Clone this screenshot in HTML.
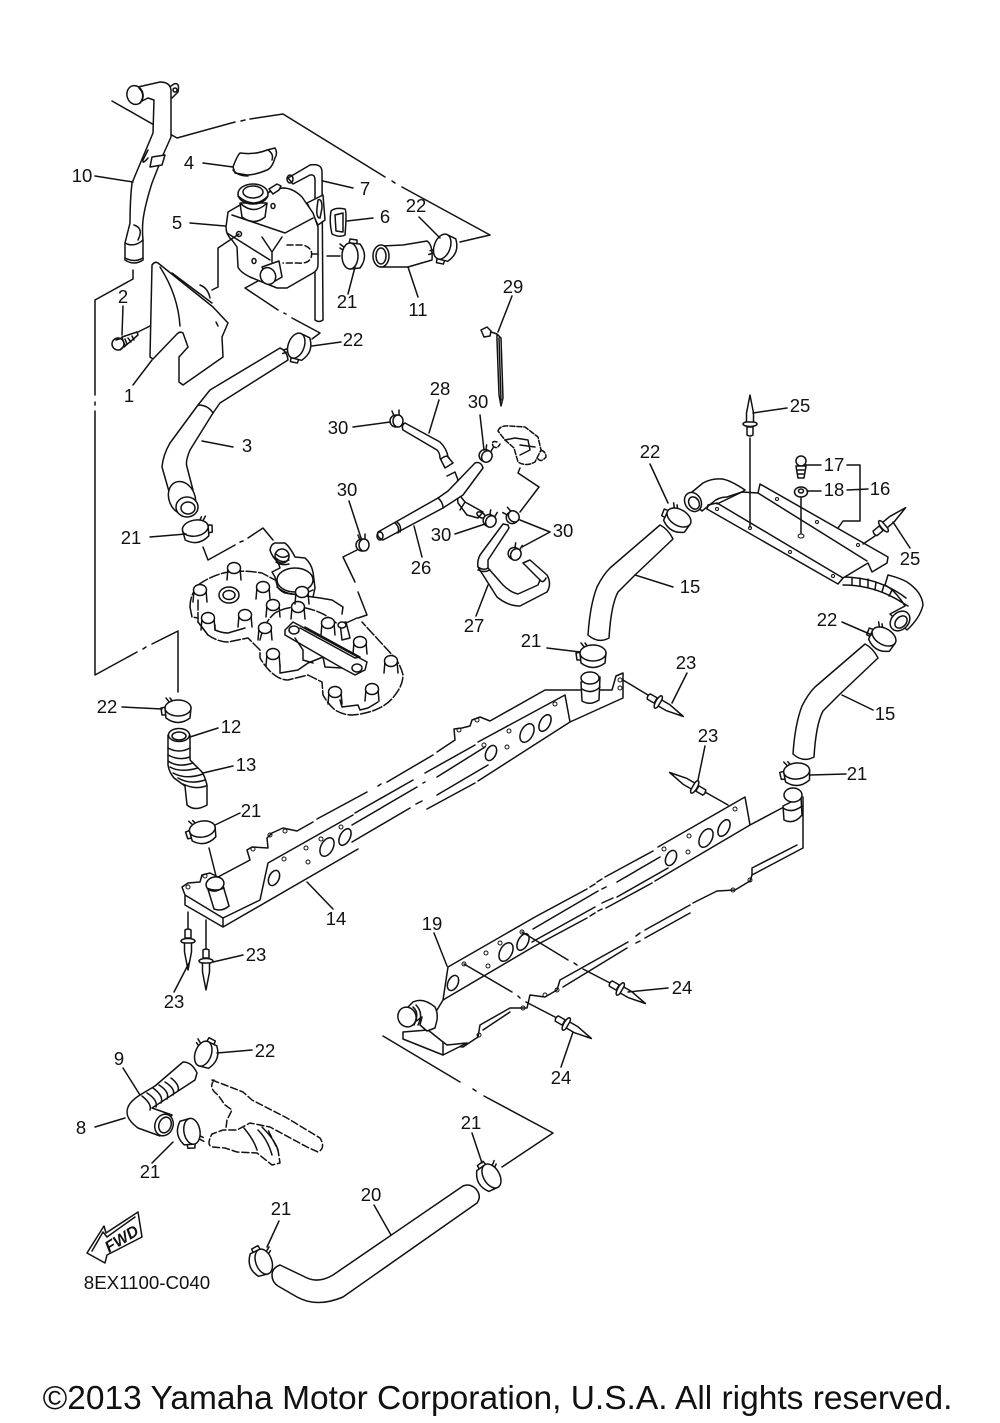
<!DOCTYPE html>
<html><head><meta charset="utf-8"><style>
html,body{margin:0;padding:0;background:#fff}
svg{display:block}
text{font-family:"Liberation Sans",sans-serif;font-size:18.5px;fill:#111;stroke:none;text-anchor:middle}
.d{stroke-dasharray:10 2.5}
.w{fill:#fff}
</style></head><body>
<svg width="1000" height="1423" viewBox="0 0 1000 1423" xmlns="http://www.w3.org/2000/svg">
<defs>
<g id="cl"><path class="w" d="M-17,-4 L-12,-5 L-11,3 L-16,3Z"/><path d="M-8,-9 L-12,-14 M-5,-10 L-8,-14"/><path class="w" d="M-13,-4 L-12,6 Q0,15 12,6 L13,-4Z"/><ellipse class="w" cy="-4" rx="13" ry="8"/></g>
<g id="sc"><path d="M-3,-5 L-5,-10 M2,-6 L2,-11"/><ellipse class="w" cx="-1" cy="0" rx="6" ry="6"/><ellipse class="w" cx="1" cy="0" rx="5" ry="6"/></g>
<g id="rv"><path class="w" d="M-13,-3 L-5,-3 L-5,3 L-13,3 Q-15,0 -13,-3Z"/><ellipse class="w" cx="-2" cy="0" rx="2.5" ry="7"/><path class="w" d="M0,-3.5 L9,-3.5 L27,0 L9,3.5 L0,3.5Z"/></g>
<g id="st"><path d="M-6,0 L-7,12 M6,0 L7,12"/><ellipse class="w" rx="6.5" ry="5.5"/></g>
<g id="h15"><path class="w" d="M660,525 Q668,529 673,539 L635,575 Q620,590 618,592 Q611,605 609,638 Q598,644 588,635 Q590,605 597,587 Q603,575 610,568Z"/></g>
</defs>
<g fill="none" stroke="#111" stroke-width="1.5" stroke-linecap="round" stroke-linejoin="round">

<!-- top chain -->
<path d="M112,101 L177,138 L235,122 M241,121 L245,120 M250,119 L283,114 L385,177 M392,181 L395,183 M402,187 L490,235 L460,242"/>

<!-- 10 -->
<path class="w" d="M138,87 L160,82 Q170,82 171,90 L171,137 L163,155 L152,183 Q145,205 143,220 Q142,230 143,240 L143,260 Q134,266 125,260 L125,243 L130,223 Q130,200 132,183 L153,133 L154,100 L148,98 L138,103Z"/>
<ellipse class="w" cx="135" cy="95" rx="8" ry="9.500" transform="rotate(-15 135 95)"/>
<path d="M171,86 L174,84 Q180,82 178,92 L172,98 M125,258 Q134,263 143,258 M125,243 Q134,248 143,240 M134,225 Q144,228 138,240 M139,88 Q146,95 140,103"/>
<circle cx="175" cy="90" r="2"/>
<path class="w" d="M152,157 L165,155 L162,165 L150,167Z"/>
<path d="M148,158 Q142,165 143,160 L148,150"/>
<path d="M133,270 L133,279 L95,300 L95,395 M95,402 L95,405 M95,411 L95,675 L137,652 M143,649 L146,647 M152,644 L178,631 L178,692"/>

<!-- 4 cap -->
<path class="w" d="M233,167 Q237,156 240,153 Q255,155 267,150 L275,148 Q278,153 275,158 Q272,168 267,170 Q255,175 247,175 L235,173Z"/>
<path d="M233,170 Q238,176 248,176 M268,150 Q274,154 272,160"/>

<!-- 7 -->
<path class="w" d="M288,178 L310,165 Q322,163 322,172 L323,320 Q319,323 315,320 L315,180 Q315,174 310,175 L293,184Z"/>
<ellipse cx="290" cy="179" rx="3" ry="4"/>
<!-- tank -->
<path class="w" d="M307,203 L323,195 L325,220 L318,225Z"/>
<path d="M318,200 Q322,198 322,208 L320,218 Q316,218 317,208Z"/>
<path class="w" d="M226,227 Q226,235 232,240 L237,247 L238,267 Q240,272 250,277 L277,288 L287,288 L313,273 Q318,270 318,265 L318,227 L313,213 L302,197 Q293,188 283,188 Q270,190 265,195 L240,205 L228,212Z"/>
<path d="M232,215 L285,233 L313,218 M262,237 L272,252 L282,237 M272,252 L272,262 M227,233 L270,260"/>
<path class="d" style="stroke-dasharray:6 3" d="M287,245 L303,245 Q314,248 311,258 Q308,264 298,263 L283,263"/>
<path d="M312,254 L318,254"/>
<circle cx="239" cy="234" r="2.5"/><ellipse cx="273" cy="206" rx="2" ry="2.5"/><ellipse cx="254" cy="261" rx="2" ry="2.5"/>
<path class="w" d="M240,203 L242,217 Q254,226 265,217 L267,203Z"/>
<ellipse class="w" cx="253" cy="194" rx="15" ry="10"/>
<ellipse cx="253" cy="192" rx="10" ry="6"/>
<path d="M238,196 Q254,210 268,196 M241,204 Q254,215 266,204"/>
<path class="w" d="M269,189 L277,184 L281,186 L279,190 L273,194Z"/>
<path class="w" d="M262,267 L279,261 L282,277 L270,284Z"/>
<ellipse class="w" cx="268" cy="276" rx="7.500" ry="8.500" transform="rotate(-25 268 276)"/>
<path d="M239,234 L218,248 L218,287 L212,290 M198,300 L168,317 M160,321 L158,322 M152,325 L138,332"/>
<path d="M258,281 L245,288 L278,310 M284,313 L286,314 M292,318 L320,333 L312,339"/>
<path d="M327,256 L340,256"/>

<!-- 6 -->
<path class="w" d="M331,211 Q335,207 345,209 Q347,212 345,235 Q340,238 332,234 Q329,222 331,211Z"/>
<path d="M335,215 L343,213 L343,232 L336,231Z"/>
<!-- 21 top -->
<g transform="translate(354,256) rotate(-90) scale(-1,1)"><use href="#cl"/></g>
<!-- 11 -->
<path class="w" d="M382,246 L403,245 L427,241 Q433,245 432,260 L408,267 L380,267 Q378,246 382,246Z"/>
<ellipse class="w" cx="381" cy="256" rx="8" ry="11"/><ellipse cx="381" cy="256" rx="5" ry="8"/>
<g transform="translate(446,248) rotate(-70)"><use href="#cl"/></g>

<!-- 1 shield -->
<path class="w" d="M150,357 L152,265 Q155,261 158,263 L213,307 L228,323 L222,337 L223,357 L183,385 L179,382 L179,357 L188,347 L183,333 Q180,331 177,334 L153,359Z"/>
<path d="M160,267 Q178,295 180,326 M172,273 L212,303 M200,285 Q208,288 210,298"/>
<path d="M216,322 L218,326"/>
<!-- 2 bolt -->
<path class="w" d="M122,337 L137,332 L138,335 L124,347Z"/>
<path d="M125,339 L127,344 M128,338 L131,342 M132,336 L134,340"/>
<ellipse class="w" cx="118" cy="344" rx="6" ry="6"/><path d="M116,340 L122,338 L125,345 L120,350"/>

<!-- 3 -->
<path class="w" d="M280,348 Q287,351 288,360 L220,403 L213,413 L190,450 Q185,462 187,467 L193,490 L170,495 L162,467 Q163,455 170,443 L198,405 L210,390Z"/>
<path d="M198,405 Q208,405 213,413"/>
<ellipse class="w" cx="182" cy="498" rx="13" ry="17" transform="rotate(-22 182 498)"/>
<ellipse class="w" cx="187" cy="507" rx="11" ry="10"/><ellipse cx="188" cy="508" rx="7" ry="6"/>
<g transform="translate(300,347) rotate(-70)"><use href="#cl"/></g>
<g transform="translate(196,532) rotate(-10) scale(-1,1)"><use href="#cl"/></g>
<path d="M203,547 L208,560 L235,545 M240,542 L243,541 M248,538 L263,528 L273,540"/>

<!-- head -->
<path class="d" d="M190,607 Q190,595 198,585 Q212,575 228,572 Q245,570 262,573 L275,580"/>
<path class="d" d="M190,607 L192,617 L198,618"/>
<path d="M198,622 L208,635"/>
<path class="d" d="M198,600 L198,622 L208,635 Q218,642 228,642 L248,638 L260,650 L260,658 Q266,668 272,673 Q280,680 288,680 L308,675 L322,682 L323,695 Q328,704 335,710 Q343,715 352,715 Q365,714 375,710 Q388,705 395,695 Q403,685 403,675 Q401,666 395,658 L362,622"/>
<path class="d" d="M260,640 Q264,622 275,613 Q285,607 298,607 Q312,608 325,615 L342,627"/>
<path d="M215,625 L215,630 Q222,633 228,633 L245,628 M280,665 L280,673 L298,670 L308,663 L323,657 L325,667 L342,668 M340,700 L342,707 L358,705 L360,710 L368,708 L378,702"/>
<path class="w" d="M270,550 Q271,544 275,543 L285,543 Q290,547 295,557 L305,558 Q311,563 313,572 L315,588 L313,597 L285,593 Q278,590 277,585 L275,577 L272,572 L280,568 L278,562 Q272,557 270,550Z"/>
<ellipse class="w" cx="282" cy="556" rx="7" ry="7"/><path d="M276,554 Q282,560 289,555 M276,558 Q282,564 289,560 M276,562 Q282,566 289,564"/>
<ellipse cx="295" cy="580" rx="18" ry="12"/>
<path d="M277,587 Q292,600 313,590 M332,600 L343,607 L342,614 M313,597 L320,598 L332,600"/>
<use href="#st" x="234" y="568"/><use href="#st" x="200" y="590"/><use href="#st" x="263" y="587"/><use href="#st" x="273" y="605"/><use href="#st" x="208" y="618"/><use href="#st" x="245" y="615"/><use href="#st" x="265" y="628"/><use href="#st" x="298" y="607"/><use href="#st" x="302" y="592"/><use href="#st" x="328" y="623"/><use href="#st" x="360" y="642"/><use href="#st" x="391" y="661"/><use href="#st" x="273" y="654"/><use href="#st" x="335" y="692"/><use href="#st" x="372" y="689"/>
<ellipse cx="229" cy="595" rx="10" ry="8"/><ellipse cx="229" cy="595" rx="6" ry="4.500"/>
<path class="w" d="M285,630 L293,622 L367,662 L365,670 L355,675 L342,668 L285,635Z"/>
<ellipse cx="294" cy="630" rx="5" ry="4"/><ellipse cx="357" cy="668" rx="5" ry="4"/>
<path d="M305,627 L360,657 L355,658 L300,628"/>
<path d="M295,638 L303,650 L303,660 L313,663"/>
<path class="w" d="M340,623 L346,622 L350,638 L342,640Z"/>
<ellipse class="w" cx="342" cy="625" rx="4" ry="3"/>
<path d="M346,623 L357,618"/>
<path d="M358,618 L367,615 L358,592 M355,582 L343,557 L357,550"/>

<!-- 28 -->
<path class="w" d="M405,423 L440,442 Q447,449 448,457 L453,463 L445,468 L440,458 Q440,453 437,450 L403,430 Q401,425 405,423Z"/>
<path d="M441,459 Q447,454 449,458"/>
<!-- stub & 26 -->
<path class="w" d="M447,476 L455,472 L458,480 L456,484 L458,503 L467,515 L478,518 L483,512 L465,502 Q458,494 457,488"/>
<ellipse cx="481" cy="515" rx="2.500" ry="4.500" transform="rotate(-60 481 515)"/>
<path d="M465,502 L460,510"/>
<path class="w" d="M378,532 L438,498 L448,491 L475,463 Q481,461 483,468 L463,495 L443,508 L383,540 Q376,537 378,532Z"/>
<path d="M438,498 Q443,502 443,508 M397,522 Q402,526 400,532 M395,523 Q400,527 398,533"/>
<ellipse cx="380" cy="536" rx="3" ry="4"/>
<!-- 27 -->
<path class="w" d="M508,525 L503,524 L480,555 Q477,561 478,567 L497,597 Q508,606 520,606 L547,592 Q552,584 547,575 L530,560 L523,563 L540,580 L538,585 L518,594 Q510,592 503,585 L488,568 L488,560 L509,528Z"/>
<path d="M478,567 Q484,571 488,568 M478,570 Q484,573 490,570 M540,580 Q543,584 546,578"/>
<use href="#sc" x="397" y="421"/><g transform="translate(486,456) rotate(30)"><use href="#sc"/></g><use href="#sc" x="363" y="545"/><g transform="translate(490,521) rotate(30)"><use href="#sc"/></g><g transform="translate(513,517) rotate(-40)"><use href="#sc"/></g><g transform="translate(515,554) rotate(30)"><use href="#sc"/></g>
<!-- phantom valve -->
<path class="d" style="stroke-dasharray:5 2" d="M498,431 Q500,425 510,426 L525,427 L538,437 L541,450 L535,462 Q526,467 518,462 L514,448 L505,440 L498,431Z M497,442 Q491,440 493,446 Q497,450 500,444 M541,450 Q546,452 546,457 Q540,464 537,457"/>
<path d="M505,440 L515,438 L528,440 L530,450 L520,455 M520,445 L535,447"/>
<path d="M520,468 L518,473 L539,487 L520,512"/>
<!-- 29 -->
<path class="w" d="M481,330 L487,327 L491,331 L490,336 L484,337Z"/>
<path d="M491,332 L497,334 M497,334 L497,340 L499,395 L501,406 L503,398 L501,338 L497,334 M499,338 L501,400"/>

<!-- rail 14 -->
<path d="M358,849 L223,927 L185,905 L185,895 L182,887 L188,883 L200,882 L202,875 L210,873 L218,877 L250,860 L247,850 L252,847 L268,848 L267,838 L272,833 L283,828 L297,831 L313,822 M317,819 L367,792 M378,786 L381,784 M387,782 L433,755 M437,752 L455,740 L454,729 L462,728 L470,726 L472,720 L480,717 L490,721 L545,690 L612,690 L616,676 L623,673 L623,698 L570,722 L565,695 L478,742 M475,745 L425,773 M413,780 L355,813 M353,815 L268,863 L260,900 L223,918 L223,927 M185,895 L223,918 M427,809 L475,783 M478,781 L570,722"/>
<path d="M352,825 L417,787 M423,783 L425,782 M437,777 L485,747 M352,842 L410,808 M416,804 L422,801 M437,795 L488,765"/>
<ellipse cx="274" cy="878" rx="5" ry="8" transform="rotate(25 274 878)"/><ellipse cx="327" cy="847" rx="6" ry="10" transform="rotate(28 327 847)"/><ellipse cx="345" cy="837" rx="5" ry="9" transform="rotate(28 345 837)"/><ellipse cx="491" cy="753" rx="5" ry="8" transform="rotate(25 491 753)"/><ellipse cx="527" cy="733" rx="6" ry="10" transform="rotate(28 527 733)"/><ellipse cx="545" cy="723" rx="5" ry="9" transform="rotate(28 545 723)"/>
<g stroke-width="1"><circle cx="284" cy="859" r="2"/><circle cx="306" cy="848" r="2"/><circle cx="308" cy="862" r="2"/><circle cx="321" cy="839" r="2"/><circle cx="341" cy="827" r="2"/><circle cx="484" cy="745" r="2"/><circle cx="509" cy="731" r="2"/><circle cx="507" cy="747" r="2"/><circle cx="555" cy="704" r="2"/><circle cx="620" cy="680" r="2"/><circle cx="620" cy="688" r="2"/><circle cx="270" cy="835" r="2"/><circle cx="285" cy="831" r="2"/><circle cx="253" cy="849" r="2"/><circle cx="459" cy="730" r="2"/><circle cx="477" cy="720" r="2"/><circle cx="188" cy="887" r="2"/><circle cx="205" cy="876" r="2"/></g>
<path class="w" d="M207,886 L222,882 L229,906 Q222,912 214,909Z"/>
<ellipse class="w" cx="215" cy="884" rx="9" ry="7" transform="rotate(-12 215 884)"/>
<path d="M207,888 Q216,892 224,888"/>
<path class="w" d="M581,682 L600,677 L599,700 Q590,706 582,701Z"/>
<ellipse class="w" cx="590" cy="678" rx="9" ry="6"/><path d="M582,689 Q592,695 600,687"/>
<use href="#cl" x="593" y="657"/>
<path d="M623,680 L648,695"/>
<!-- 12 13 -->
<path class="w" d="M168,735 L168,765 Q169,772 174,778 L185,786 L187,805 Q195,812 207,805 L207,785 Q204,773 200,770 L190,760 L190,735Z"/>
<ellipse class="w" cx="179" cy="735" rx="10.500" ry="6.500"/><ellipse cx="179" cy="736" rx="7" ry="4"/>
<path d="M168,748 Q179,754 190,748 M168,755 Q179,761 190,757 M168,761 Q178,768 193,763 M170,767 Q180,773 198,768 M173,773 Q186,780 203,774 M178,778 Q190,785 205,780 M183,784 Q195,790 206,786"/>
<use href="#cl" x="178" y="712"/>
<g transform="translate(203,833) rotate(-10)"><use href="#cl"/></g>
<path d="M209,848 L216,876"/>
<path d="M188,912 L188,928 M206,920 L206,948"/>

<!-- rail 19 -->
<path d="M447,966 L434,933 M448,967 L535,917 L587,889 M590,887 L595,884 M597,882 L602,879 M605,877 L653,851 M658,847 L745,797 L750,825 L782,808 M448,967 L443,1000 L533,947 L587,918 M590,916 L595,913 M598,911 L602,909 M606,908 L652,883 M655,881 L750,825"/>
<path d="M533,929 L598,891 M602,889 L606,887 M617,882 L660,857 M532,942 L595,907 M602,903 L613,898 M617,897 L668,868"/>
<path d="M803,797 L803,848 L752,875 L752,868 L797,845"/>
<ellipse cx="453" cy="983" rx="5" ry="8" transform="rotate(25 453 983)"/><ellipse cx="506" cy="952" rx="6" ry="10" transform="rotate(28 506 952)"/><ellipse cx="523" cy="942" rx="5" ry="9" transform="rotate(28 523 942)"/><ellipse cx="671" cy="858" rx="5" ry="8" transform="rotate(25 671 858)"/><ellipse cx="706" cy="838" rx="6" ry="10" transform="rotate(28 706 838)"/><ellipse cx="724" cy="828" rx="5" ry="9" transform="rotate(28 724 828)"/>
<g stroke-width="1"><circle cx="464" cy="964" r="2"/><circle cx="486" cy="953" r="2"/><circle cx="488" cy="966" r="2"/><circle cx="500" cy="943" r="2"/><circle cx="522" cy="932" r="2"/><circle cx="664" cy="849" r="2"/><circle cx="689" cy="836" r="2"/><circle cx="688" cy="852" r="2"/><circle cx="735" cy="809" r="2"/></g>
<path class="w" d="M783,806 L801,797 L802,815 Q794,825 784,820Z"/><ellipse class="w" cx="793" cy="795" rx="9" ry="7"/><path d="M783,808 Q792,814 802,806"/>
<g transform="translate(797,775) rotate(-5)"><use href="#cl"/></g>
<!-- back flange -->
<path d="M752,875 L750,881 L735,890 L717,891 L693,903 M690,905 L645,930 M640,933 L636,936 M628,942 L560,980 L557,990 L545,997 L530,995 L527,1008 L518,1008 L510,1008 L480,1025 L478,1037 L463,1047 L447,1045 M690,913 L645,938 M640,941 L636,943 M627,948 L563,987 M510,1012 L483,1030"/>
<g stroke-width="1"><circle cx="463" cy="1045" r="2"/><circle cx="479" cy="1035" r="2"/><circle cx="523" cy="1008" r="2"/><circle cx="545" cy="995" r="2"/><circle cx="557" cy="990" r="2"/><circle cx="733" cy="890" r="2"/><circle cx="750" cy="880" r="2"/></g>
<path d="M464,964 L512,992 M518,996 L520,998 M526,1002 L555,1017 M522,932 L568,960 M574,963 L577,965 M583,969 L610,983"/>
<!-- elbow 19 -->
<path class="w" d="M403,1032 L403,1039 L443,1055 L467,1043 L447,1045 L443,1042 L428,1030Z"/>
<path class="w" d="M407,1008 L413,1002 Q423,997 435,1007 Q438,1013 437,1020 L435,1028 L427,1031 L420,1025 L422,1017 L412,1024Z"/>
<ellipse class="w" cx="407" cy="1017" rx="9" ry="10" transform="rotate(-20 407 1017)"/>
<path d="M413,1007 Q420,1013 414,1025 M416,1005 Q424,1013 418,1025"/>
<path d="M443,1042 L443,1055 M437,1010 L443,1000"/>
<path d="M383,1036 L460,1082 M473,1089 L476,1091 M484,1096 L553,1133 L502,1167"/>

<!-- 16 -->
<path class="w" d="M686,497 L703,483 Q712,478 722,479 Q730,480 745,490 L742,492 L727,497 Q718,497 712,503 L702,511Z"/>
<ellipse class="w" cx="693" cy="502" rx="8" ry="10" transform="rotate(-30 693 502)"/><ellipse cx="694" cy="503" rx="5" ry="6.500" transform="rotate(-30 694 503)"/>
<path d="M742,492 L758,493 L760,484 L888,557 L887,563 L872,572 L868,563 L843,578 M758,493 L867,561 M717,504 L742,492 M708,505 L717,503 L843,578 L838,584 L707,509 L708,505"/>
<g stroke-width="1"><circle cx="717" cy="509" r="1.500"/><circle cx="750" cy="528" r="1.500"/><circle cx="790" cy="552" r="1.500"/><circle cx="833" cy="576" r="1.500"/><circle cx="777" cy="499" r="1.500"/><circle cx="817" cy="522" r="1.500"/><circle cx="858" cy="545" r="1.500"/><ellipse cx="801" cy="536" rx="3" ry="2"/></g>
<path d="M750,438 L750,527 M801,497 L801,533"/>
<path d="M847,465 L860,465 L860,521 L843,521 L838,528 M847,490 L868,489"/>
<circle cx="801" cy="461" r="5" class="w"/><path d="M796,466 L806,466 L804,478 L798,478Z M798,470 L804,470 M798,474 L804,474" class="w"/>
<ellipse class="w" cx="801" cy="492" rx="6.500" ry="5"/><ellipse cx="801" cy="491" rx="2.500" ry="2"/>
<path class="w" d="M888,575 Q900,578 907,582 Q922,592 923,605 Q920,618 907,630 L890,614 L905,606 Q895,590 885,585Z"/>
<path d="M843,585 Q875,585 903,603 L908,606 M845,577 Q880,578 906,598 M852,578 L852,585 M860,578 L860,586 M868,579 L868,587 M876,582 L875,590 M884,585 L882,592 M892,590 L889,596"/>
<ellipse class="w" cx="900" cy="621" rx="11" ry="8.500" transform="rotate(-45 900 621)"/><ellipse cx="901" cy="622" rx="7" ry="5" transform="rotate(-45 901 622)"/>
<path d="M863,544 L875,536"/>
<use href="#h15"/><g transform="translate(205,119)"><use href="#h15"/></g>
<g transform="translate(677,521) rotate(30)"><use href="#cl"/></g>
<g transform="translate(882,640) rotate(30)"><use href="#cl"/></g>

<!-- 8/9 -->
<path class="w" d="M183,1062 Q192,1062 197,1073 L195,1080 L152,1108 L172,1115 L160,1136 L138,1128 Q127,1120 127,1112 Q127,1103 140,1095 L155,1086 L183,1062Z"/>
<path d="M142,1096 Q152,1104 150,1110 M147,1093 Q158,1100 156,1107 M153,1088 Q164,1096 161,1103 M159,1085 Q170,1092 167,1099 M165,1082 Q176,1089 173,1095 M171,1078 Q180,1085 178,1091"/>
<ellipse class="w" cx="164" cy="1125" rx="9" ry="11" transform="rotate(20 164 1125)"/><ellipse cx="165" cy="1125" rx="6" ry="8" transform="rotate(20 165 1125)"/>
<g transform="translate(188,1132) rotate(80) scale(-1,1)"><use href="#cl"/></g>
<g transform="translate(207,1055) rotate(-70) scale(-1,1)"><use href="#cl"/></g>
<path class="d" style="stroke-dasharray:7 3" d="M214,1080 Q208,1088 218,1095 L225,1105 L232,1110 L227,1120 L226,1128 M212,1080 L225,1085 L243,1092 L252,1100 L287,1118 L320,1138 Q326,1148 318,1152 L307,1147 L270,1127 L250,1123 L237,1130 L223,1130 L212,1134 Q206,1145 212,1147 L225,1148 L237,1152 L257,1153 L272,1165 L280,1163 L278,1150 L268,1130"/>
<path d="M258,1130 Q268,1140 272,1155 M262,1127 Q275,1140 278,1150 M244,1128 Q254,1140 257,1150"/>

<!-- FWD -->
<path class="w" d="M87,1253 L104,1226 L106,1233 L138,1212 L142,1237 L107,1255 L105,1263Z"/>
<path d="M92,1251 L103,1232 L107,1237 L135,1217"/>
<text x="0" y="0" transform="translate(109,1253) rotate(-32)" style="font-size:16px;font-weight:bold;font-style:italic;text-anchor:start">FWD</text>

<!-- 20 -->
<path class="w" d="M280,1265 Q272,1268 272,1275 Q272,1282 278,1286 L297,1297 Q317,1308 343,1297 L477,1203 Q482,1196 476,1189 Q470,1183 463,1186 L333,1275 Q318,1284 305,1277Z"/>
<g transform="translate(260,1263) rotate(70)"><use href="#cl"/></g>
<g transform="translate(488,1178) rotate(60)"><use href="#cl"/></g>

<!-- rivets -->
<g transform="translate(660,703) rotate(30)"><use href="#rv"/></g>
<g transform="translate(693,786) rotate(210)"><use href="#rv"/></g>
<g transform="translate(568,1025) rotate(30)"><use href="#rv"/></g>
<g transform="translate(622,990) rotate(30)"><use href="#rv"/></g>
<g transform="translate(750,422) rotate(-90)"><use href="#rv"/></g>
<g transform="translate(885,525) rotate(-40)"><use href="#rv"/></g>
<g transform="translate(188,943) rotate(90)"><use href="#rv"/></g>
<g transform="translate(206,963) rotate(90)"><use href="#rv"/></g>
<path d="M705,792 L728,805"/>

<!-- leaders -->
<path d="M95,176 L133,182 M203,163 L233,167 M323,181 L353,188 M190,223 L225,226 M347,221 L373,218 M419,217 L440,238 M123,306 L122,335 M355,267 L348,294 M408,267 L418,297 M152,360 L133,385 M512,296 L498,332 M312,346 L341,342 M439,400 L429,433 M480,415 L484,450 M353,427 L390,422 M349,501 L361,538 M202,441 L233,447 M753,413 L787,408 M650,464 L668,503 M893,522 L910,548 M150,537 L186,534 M455,534 L485,524 M414,526 L422,557 M550,532 L520,520 M550,532 L522,547 M488,585 L476,616 M635,575 L673,587 M547,648 L580,652 M842,622 L872,635 M687,673 L672,703 M842,695 L873,710 M122,707 L162,709 M190,737 L218,728 M705,746 L698,780 M203,773 L233,766 M810,775 L846,774 M215,825 L240,813 M805,465 L821,465 M807,491 L821,491 M307,882 L333,909 M213,962 L243,955 M189,963 L174,992 M628,992 L668,988 M217,1053 L252,1050 M573,1032 L561,1067 M123,1068 L140,1095 M125,1118 L95,1127 M173,1142 L152,1163 M472,1133 L482,1163 M374,1205 L391,1235 M279,1221 L267,1247"/>
</g>

<g>
<text x="82" y="182">10</text><text x="189" y="169">4</text><text x="365" y="195">7</text><text x="177" y="229">5</text><text x="385" y="223">6</text><text x="416" y="212">22</text><text x="123" y="303">2</text><text x="347" y="308">21</text><text x="418" y="316">11</text><text x="513" y="293">29</text><text x="353" y="346">22</text><text x="129" y="402">1</text><text x="440" y="395">28</text><text x="478" y="408">30</text><text x="338" y="434">30</text><text x="247" y="452">3</text><text x="800" y="412">25</text><text x="650" y="458">22</text><text x="834" y="471">17</text><text x="880" y="495">16</text><text x="834" y="496">18</text><text x="347" y="496">30</text><text x="441" y="541">30</text><text x="563" y="537">30</text><text x="421" y="574">26</text><text x="131" y="544">21</text><text x="690" y="593">15</text><text x="910" y="565">25</text><text x="474" y="632">27</text><text x="827" y="626">22</text><text x="531" y="647">21</text><text x="686" y="669">23</text><text x="107" y="713">22</text><text x="885" y="720">15</text><text x="231" y="733">12</text><text x="708" y="742">23</text><text x="246" y="771">13</text><text x="857" y="780">21</text><text x="251" y="817">21</text><text x="336" y="925">14</text><text x="432" y="930">19</text><text x="256" y="961">23</text><text x="174" y="1008">23</text><text x="682" y="994">24</text><text x="265" y="1057">22</text><text x="561" y="1084">24</text><text x="119" y="1065">9</text><text x="81" y="1134">8</text><text x="471" y="1129">21</text><text x="150" y="1178">21</text><text x="371" y="1201">20</text><text x="281" y="1215">21</text>
<text x="147" y="1289" style="font-size:18.7px">8EX1100-C040</text>
<text x="497.500" y="1409" style="font-size:33.5px">©2013 Yamaha Motor Corporation, U.S.A. All rights reserved.</text>
</g>
</svg>
</body></html>
